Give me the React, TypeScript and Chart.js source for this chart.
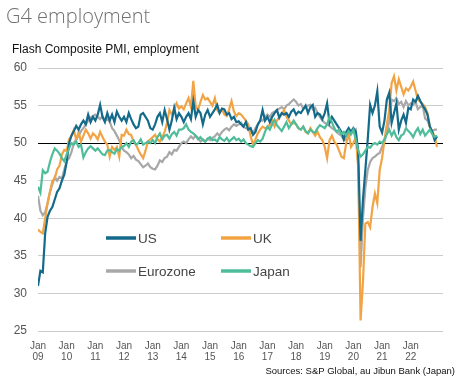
import React, { useEffect, useRef } from "react";
import { Chart, registerables } from "chart.js";

Chart.register(...registerables);

const titleText = "G4 employment";
const subtitleText = "Flash Composite PMI, employment";
const sourceText = "Sources: S&P Global, au Jibun Bank (Japan)";

const yearLabels = ["09", "10", "11", "12", "13", "14", "15", "16", "17", "18", "19", "20", "21", "22"];
const yTicks = [25, 30, 35, 40, 45, 50, 55, 60];

const seriesNames = ["US", "UK", "Eurozone", "Japan"];
const seriesColors = ["#136a8a", "#f2a445", "#a8a8a8", "#4fbc9a"];

// Monthly values, Jan 2009 - Dec 2022
const usValues = [
  31.0, 33.0, 32.8, 38.0, 40.2, 41.0, 41.5, 42.5, 43.5, 44.0, 45.0, 45.8,
  47.5, 50.0, 51.0, 51.6, 52.3, 51.8, 52.5, 53.0, 52.5, 53.8, 52.8, 53.5,
  53.0, 53.8, 55.1, 53.5, 52.8, 54.0, 53.0, 53.8, 52.8, 54.2, 53.5, 53.0,
  53.5, 52.8, 54.0, 53.2, 52.5, 52.0, 52.2, 53.8, 54.0, 53.5, 53.0, 52.0,
  51.8, 52.5, 53.5, 54.0, 52.8, 54.4, 53.2, 51.8, 53.0, 54.7, 53.2, 54.0,
  53.5, 52.8, 53.5, 54.0, 53.2, 55.6, 53.5, 54.4, 54.0, 52.5, 53.8, 54.4,
  53.5, 54.0, 54.5, 55.1, 54.0, 54.6, 54.5, 53.8, 54.0, 53.2, 53.5, 52.8,
  52.9, 52.5, 52.2, 52.8, 51.8, 52.0, 51.1, 51.5, 52.5, 53.0, 54.4, 53.0,
  53.5, 52.8, 53.5, 54.0, 54.4, 53.4, 54.0, 53.8, 54.0, 53.5, 54.2, 54.5,
  53.8, 54.2, 54.0, 54.5, 55.0, 54.0, 54.8, 55.1, 53.5, 54.0, 53.8, 53.2,
  54.0, 55.3, 52.7, 53.5, 53.0, 52.5, 52.0, 51.5, 50.5, 51.5, 52.0, 51.5,
  52.0, 51.5, 49.0, 37.0, 42.5, 46.4, 50.5, 55.1, 54.0, 55.0, 56.9, 52.2,
  51.4, 53.0, 55.8, 56.7, 52.7, 54.0, 55.3, 51.8, 53.0, 53.8, 52.7, 54.7,
  54.5, 55.8, 55.5, 56.3, 55.6, 55.0, 54.5, 53.8, 52.2, 51.5, 50.4, 50.9,
];

const ukValues = [
  38.5, 38.2, 38.0, 40.0, 42.0, 43.5, 45.0, 45.3, 46.5, 47.0, 48.5, 49.1,
  49.0, 50.5, 51.0, 51.8, 50.4, 51.5, 50.2, 51.0, 51.8, 51.3, 50.6, 51.3,
  51.0, 50.5, 51.5, 50.8, 50.2, 49.8, 48.2, 49.5, 49.1, 49.5, 48.2, 51.1,
  51.0, 51.8, 51.2, 51.1, 50.2, 49.8, 49.1, 48.5, 48.0, 49.0, 50.2, 50.5,
  50.8, 51.1, 50.5, 50.2, 50.8, 51.5, 52.7, 54.4, 53.8, 54.5, 55.3, 54.6,
  54.9, 54.5, 55.3, 56.0, 54.8, 58.3, 54.9, 54.4, 55.5, 56.4, 55.8, 56.0,
  55.5, 55.0, 56.0, 54.4, 54.0, 54.5, 53.8, 53.6, 54.5, 55.6, 54.2, 53.6,
  54.0, 53.8, 53.4, 53.0, 52.5, 50.9, 49.8, 50.5, 51.3, 51.8, 52.2, 52.0,
  52.0, 52.5, 53.0, 52.2, 53.0, 53.5, 53.8, 54.4, 53.5, 53.0, 52.5, 52.7,
  52.5, 52.0, 51.8, 52.2, 51.5, 51.3, 52.0, 51.5, 51.0, 51.5, 50.8, 50.4,
  49.5, 48.0, 50.4, 51.0, 50.2, 49.8, 49.0, 48.2, 48.0, 50.0, 51.3, 49.5,
  50.0, 50.8, 47.0, 26.4, 31.5, 39.3, 39.5, 38.8, 41.5, 43.3, 42.0, 46.4,
  48.0, 50.4, 52.5, 54.4, 58.0, 58.9, 57.0, 58.5, 57.5, 56.5, 57.3, 57.0,
  57.5, 58.2, 57.0, 55.8, 55.5, 55.2, 54.8, 54.0, 52.2, 51.5, 51.0, 49.5,
];

const ezValues = [
  43.0, 41.0, 40.4, 40.8, 42.0, 43.5, 44.5, 45.5, 45.0, 45.5, 45.3, 46.5,
  47.6, 48.0, 48.8, 50.0, 50.5, 51.0, 51.6, 52.0, 52.5, 53.0, 53.4, 53.6,
  53.8, 53.5, 53.2, 53.6, 53.0, 53.2, 52.9, 52.0, 51.6, 51.0, 50.4, 49.5,
  49.0, 48.8, 48.5, 48.0, 48.3, 47.8, 47.6, 47.2, 46.8, 47.0, 47.3, 46.8,
  46.6, 46.5, 47.0, 47.7, 47.5, 48.0, 48.2, 48.8, 48.5, 49.1, 49.0, 49.5,
  50.0, 50.2, 50.0, 50.5, 50.9, 50.6, 51.0, 50.7, 50.2, 50.5, 50.2, 50.6,
  50.4, 50.7, 50.9, 51.3, 51.0, 51.5, 51.8, 52.0, 51.7, 52.2, 52.5, 52.3,
  52.5, 52.7, 52.2, 52.0, 51.8, 51.5, 51.3, 52.0, 52.5, 53.0, 53.0, 53.5,
  53.8, 53.5, 54.0, 54.2, 54.4, 54.6, 54.8, 54.5, 55.0, 55.2, 55.5, 55.8,
  55.5, 55.0, 55.2, 54.6, 54.8, 55.0, 55.1, 54.5, 54.7, 54.0, 53.5, 53.0,
  52.7, 52.5, 52.3, 52.0, 51.8, 51.5, 51.2, 51.0, 50.4, 50.5, 50.8, 51.3,
  51.5, 51.8, 47.0, 33.5, 40.0, 44.0, 46.4, 47.5, 48.0, 48.2, 48.5, 48.7,
  49.5, 50.2, 51.5, 52.9, 55.8, 55.6, 56.0, 55.2, 55.5, 54.8, 55.6, 55.0,
  55.3, 55.1, 55.5, 54.5, 54.8, 55.0, 53.3, 53.0, 52.2, 51.6, 51.8, 51.8,
];

const jpValues = [
  44.2, 43.4, 46.4, 46.0, 46.2, 47.5, 48.5, 49.3, 49.0, 48.6, 48.0, 47.6,
  48.5, 49.3, 50.0, 49.8, 50.2, 49.5, 49.8, 48.1, 48.8, 49.3, 49.6, 49.3,
  49.0, 49.3, 48.9, 48.5, 48.4, 49.0, 49.1, 48.8, 48.6, 49.2, 49.0, 49.5,
  49.6, 50.0, 49.5, 50.2, 50.4, 49.8, 50.0, 50.5, 49.8, 50.0, 50.2, 50.0,
  50.4, 50.0, 50.8, 51.3, 50.5, 51.0, 51.1, 50.6, 51.2, 51.5, 51.0, 51.8,
  51.8, 52.0, 52.5, 51.8, 51.5, 51.3, 51.0, 50.5, 50.8, 50.4, 50.2, 50.6,
  50.8, 50.4, 50.5, 50.2, 50.8, 50.5, 50.3, 50.7, 50.2, 50.5, 50.8, 50.4,
  50.6, 50.2, 50.5, 50.0, 49.8, 49.6, 49.5, 50.0, 50.4, 50.2, 50.6, 51.5,
  52.2, 51.8, 52.5, 53.1, 52.4, 52.0, 51.6, 52.2, 52.8, 52.0, 52.5, 53.0,
  52.5, 52.0, 51.8, 52.2, 51.6, 51.3, 51.8, 51.5, 51.4, 52.0, 52.4, 52.2,
  52.0, 52.5, 53.5, 52.8, 52.0, 51.5, 51.8, 51.2, 51.5, 51.0, 51.6, 51.2,
  51.8, 50.5, 49.0, 48.2, 48.5, 49.0, 49.5, 49.4, 49.8, 50.0, 49.8, 50.2,
  50.0, 50.5, 51.2, 51.8, 51.0, 51.6, 50.8, 50.4, 51.0, 51.2, 52.0, 51.6,
  51.3, 50.8, 51.5, 52.0, 51.2, 51.8, 51.0, 51.4, 51.8, 51.2, 50.8, 51.0,
];

const allSeries = [usValues, ukValues, ezValues, jpValues];
const drawOrder = [1, 2, 3, 0];

const textPlugin = {
  id: "textPlugin",
  afterDraw(chart: any) {
    const { ctx, chartArea } = chart;
    ctx.save();
    // title
    ctx.fillStyle = "#707070";
    ctx.font = "300 20px 'Open Sans', sans-serif";
    ctx.textAlign = "left";
    ctx.textBaseline = "alphabetic";
    ctx.fillText(titleText, 6, 23);
    // subtitle
    ctx.fillStyle = "#111111";
    ctx.font = "12px 'Liberation Sans', Arial, sans-serif";
    ctx.fillText(subtitleText, 12, 53);
    // source
    ctx.font = "9.5px 'Liberation Sans', Arial, sans-serif";
    ctx.textAlign = "right";
    ctx.fillText(sourceText, 455, 374);
    // legend
    ctx.font = "13.5px 'Liberation Sans', Arial, sans-serif";
    ctx.textAlign = "left";
    ctx.textBaseline = "middle";
    ctx.lineWidth = 3.5;
    ctx.lineCap = "butt";
    const cols = [chartArea.left + 68, chartArea.left + 183];
    const rows = [chartArea.top + 170, chartArea.top + 203];
    seriesNames.forEach((name, i) => {
      const cx = cols[i % 2];
      const cy = rows[Math.floor(i / 2)];
      ctx.strokeStyle = seriesColors[i];
      ctx.beginPath();
      ctx.moveTo(cx, cy);
      ctx.lineTo(cx + 30, cy);
      ctx.stroke();
      ctx.fillStyle = "#444444";
      ctx.fillText(name, cx + 32, cy + 1);
    });
    ctx.restore();
  },
};

export default function App() {
  const canvasRef = useRef<HTMLCanvasElement | null>(null);

  useEffect(() => {
    document.body.style.margin = "0";
    const canvas = canvasRef.current;
    if (!canvas) return;
    const chart = new Chart(canvas, {
      type: "line",
      data: {
        datasets: allSeries.map((vals, si) => ({
          label: seriesNames[si],
          data: vals.map((v, i) => ({ x: i, y: v })),
          borderColor: seriesColors[si],
          backgroundColor: seriesColors[si],
          borderWidth: 2.2,
          pointRadius: 0,
          tension: 0,
          order: drawOrder[si],
        })),
      },
      options: {
        animation: false,
        responsive: false,
        maintainAspectRatio: false,
        layout: { padding: { top: 68, right: 19, left: 0, bottom: 0 } },
        plugins: {
          legend: { display: false },
          tooltip: { enabled: false },
          title: { display: false },
        },
        scales: {
          x: {
            type: "linear",
            min: 0,
            max: 169.5,
            grid: { display: false },
            border: { display: false },
            afterBuildTicks: (scale: any) => {
              scale.ticks = yearLabels.map((_, i) => ({ value: i * 12 }));
            },
            afterFit: (scale: any) => {
              scale.height = 52;
            },
            ticks: {
              autoSkip: false,
              maxRotation: 0,
              padding: 2,
              color: "#555555",
              font: { size: 10, family: "'Liberation Sans', Arial, sans-serif", lineHeight: 1.1 },
              callback: (value: any) => {
                const idx = Math.round(Number(value) / 12);
                return ["Jan", yearLabels[idx]];
              },
            },
          },
          y: {
            min: 25,
            max: 60,
            afterBuildTicks: (scale: any) => {
              scale.ticks = yTicks.map((v) => ({ value: v }));
            },
            afterFit: (scale: any) => {
              scale.width = 38;
            },
            border: { display: false },
            grid: {
              drawTicks: false,
              color: (ctx: any) => (ctx.tick && ctx.tick.value === 50 ? "#000000" : "#cccccc"),
              lineWidth: 1,
            },
            ticks: {
              padding: 11,
              color: "#555555",
              font: { size: 12, family: "'Liberation Sans', Arial, sans-serif" },
            },
          },
        },
      },
      plugins: [textPlugin],
    });
    return () => chart.destroy();
  }, []);

  return (
    <div style={{ position: "absolute", left: 0, top: 0, width: 462, height: 383, background: "#ffffff" }}>
      <canvas ref={canvasRef} width={462} height={383} style={{ width: 462, height: 383, display: "block" }} />
    </div>
  );
}
